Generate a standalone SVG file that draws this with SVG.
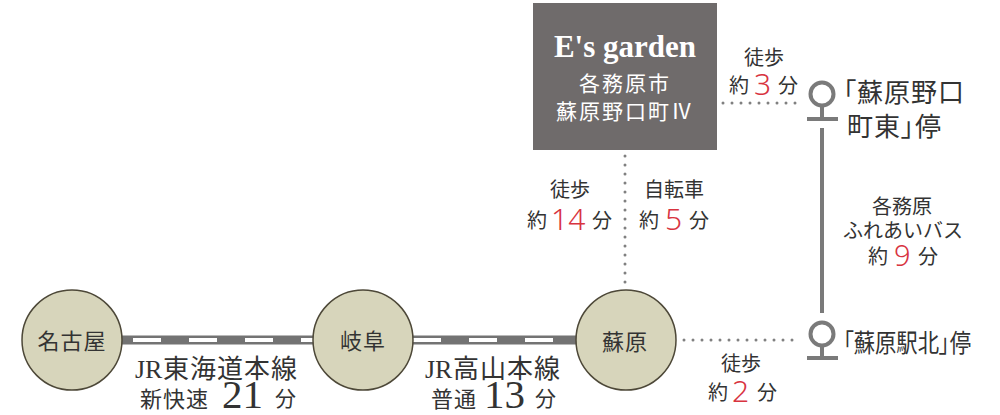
<svg xmlns="http://www.w3.org/2000/svg" width="1000" height="415" viewBox="0 0 1000 415">
<style>
.t{font-family:"Noto Sans CJK JP","Noto Sans",sans-serif;fill:#333}
.w{font-family:"Noto Sans CJK JP","Noto Sans",sans-serif;fill:#fff}
.serif{font-family:"Liberation Serif","DejaVu Serif",serif}
.red{font-family:"Noto Sans","Liberation Sans",sans-serif;font-weight:300;fill:#d8343f}
.palt{font-feature-settings:"palt"}
.st{fill:#d7d5bb;stroke:#4d4838;stroke-width:1.5}
.dot{fill:none;stroke:#808080;stroke-width:3;stroke-linecap:round;stroke-dasharray:0 9}
.bus{fill:none;stroke:#7a7a7a;stroke-width:4}
</style>
<rect width="1000" height="415" fill="#fff"/>
<g id="connectors">
  <line x1="72" y1="340" x2="626" y2="340" stroke="#737373" stroke-width="9"/>
  <line x1="133" y1="340" x2="600" y2="340" stroke="#fff" stroke-width="4" stroke-dasharray="28 28"/>
  <line class="dot" x1="625" y1="156" x2="625" y2="290"/>
  <line class="dot" x1="723" y1="103" x2="803" y2="103"/>
  <line class="dot" x1="684" y1="340" x2="800" y2="340"/>
  <line class="bus" x1="822" y1="128" x2="822" y2="313"/>
</g>
<g id="garden">
  <rect x="533" y="3" width="184" height="147" fill="#6f6b6b"/>
  <text x="625" y="57" font-size="31" font-weight="bold" text-anchor="middle" fill="#fff" style="font-family:'Liberation Serif','DejaVu Serif',serif">E's garden</text>
  <text class="w" x="625" y="91" font-size="21" letter-spacing="2" text-anchor="middle">各務原市</text>
  <text class="w" x="625" y="119" font-size="21" letter-spacing="2" text-anchor="middle">蘇原野口町Ⅳ</text>
</g>
<g id="nagoya">
  <circle class="st" cx="72" cy="340" r="50"/>
  <text class="t" x="72" y="349" font-size="22" letter-spacing="1" text-anchor="middle">名古屋</text>
</g>
<g id="gifu">
  <circle class="st" cx="363" cy="340" r="50"/>
  <text class="t" x="363" y="349" font-size="22" letter-spacing="1" text-anchor="middle">岐阜</text>
</g>
<g id="sohara">
  <circle class="st" cx="626" cy="340" r="50"/>
  <text class="t" x="625" y="350" font-size="22" letter-spacing="1" text-anchor="middle">蘇原</text>
</g>
<g id="stop-higashi">
  <circle class="bus" cx="822" cy="94" r="11.5" fill="#fff"/>
  <line class="bus" x1="822" y1="105" x2="822" y2="119"/>
  <line class="bus" x1="807" y1="119" x2="838" y2="119"/>
  <text class="t palt" x="843" y="102" font-size="26" letter-spacing="1">「蘇原野口</text>
  <text class="t palt" x="847" y="136" font-size="26" letter-spacing="1">町東」停</text>
</g>
<g id="stop-kita">
  <circle class="bus" cx="822" cy="334" r="11.5" fill="#fff"/>
  <line class="bus" x1="822" y1="345" x2="822" y2="358"/>
  <line class="bus" x1="807" y1="358" x2="838" y2="358"/>
  <text class="t palt" x="843" y="352" font-size="25" textLength="128" lengthAdjust="spacingAndGlyphs">「蘇原駅北」停</text>
</g>
<g id="labels">
  <text class="t serif" x="135" y="378" font-size="26">JR</text>
  <text class="t" x="163" y="378" font-size="26" letter-spacing="1">東海道本線</text>
  <text class="t" x="140" y="407" font-size="22" letter-spacing="1">新快速</text>
  <text class="t serif" x="222" y="408" font-size="41">21</text>
  <text class="t" x="275" y="406" font-size="21">分</text>

  <text class="t serif" x="425" y="378" font-size="26">JR</text>
  <text class="t" x="453" y="378" font-size="26" letter-spacing="1">高山本線</text>
  <text class="t" x="431" y="407" font-size="22" letter-spacing="1">普通</text>
  <text class="t serif" x="484" y="408" font-size="41">13</text>
  <text class="t" x="535" y="406" font-size="21">分</text>

  <text class="t" x="764" y="65" font-size="20" text-anchor="middle">徒歩</text>
  <text class="t" x="729" y="93" font-size="20">約</text>
  <text class="red" x="754" y="95" font-size="30">3</text>
  <text class="t" x="778" y="93" font-size="20">分</text>

  <text class="t" x="570" y="197" font-size="20" text-anchor="middle">徒歩</text>
  <text class="t" x="527" y="228" font-size="20">約</text>
  <text class="red" x="551" y="230" font-size="30">14</text>
  <text class="t" x="592" y="228" font-size="20">分</text>

  <text class="t" x="674" y="197" font-size="20" text-anchor="middle">自転車</text>
  <text class="t" x="639" y="228" font-size="20">約</text>
  <text class="red" x="665" y="230" font-size="30">5</text>
  <text class="t" x="689" y="228" font-size="20">分</text>

  <text class="t" x="902" y="214" font-size="20" text-anchor="middle">各務原</text>
  <text class="t" x="903" y="238" font-size="20" text-anchor="middle">ふれあいバス</text>
  <text class="t" x="868" y="264" font-size="20">約</text>
  <text class="red" x="894" y="266" font-size="29">9</text>
  <text class="t" x="918" y="264" font-size="20">分</text>

  <text class="t" x="741" y="371" font-size="20" text-anchor="middle">徒歩</text>
  <text class="t" x="708" y="400" font-size="20">約</text>
  <text class="red" x="732" y="402" font-size="30">2</text>
  <text class="t" x="757" y="400" font-size="20">分</text>
</g>
</svg>
